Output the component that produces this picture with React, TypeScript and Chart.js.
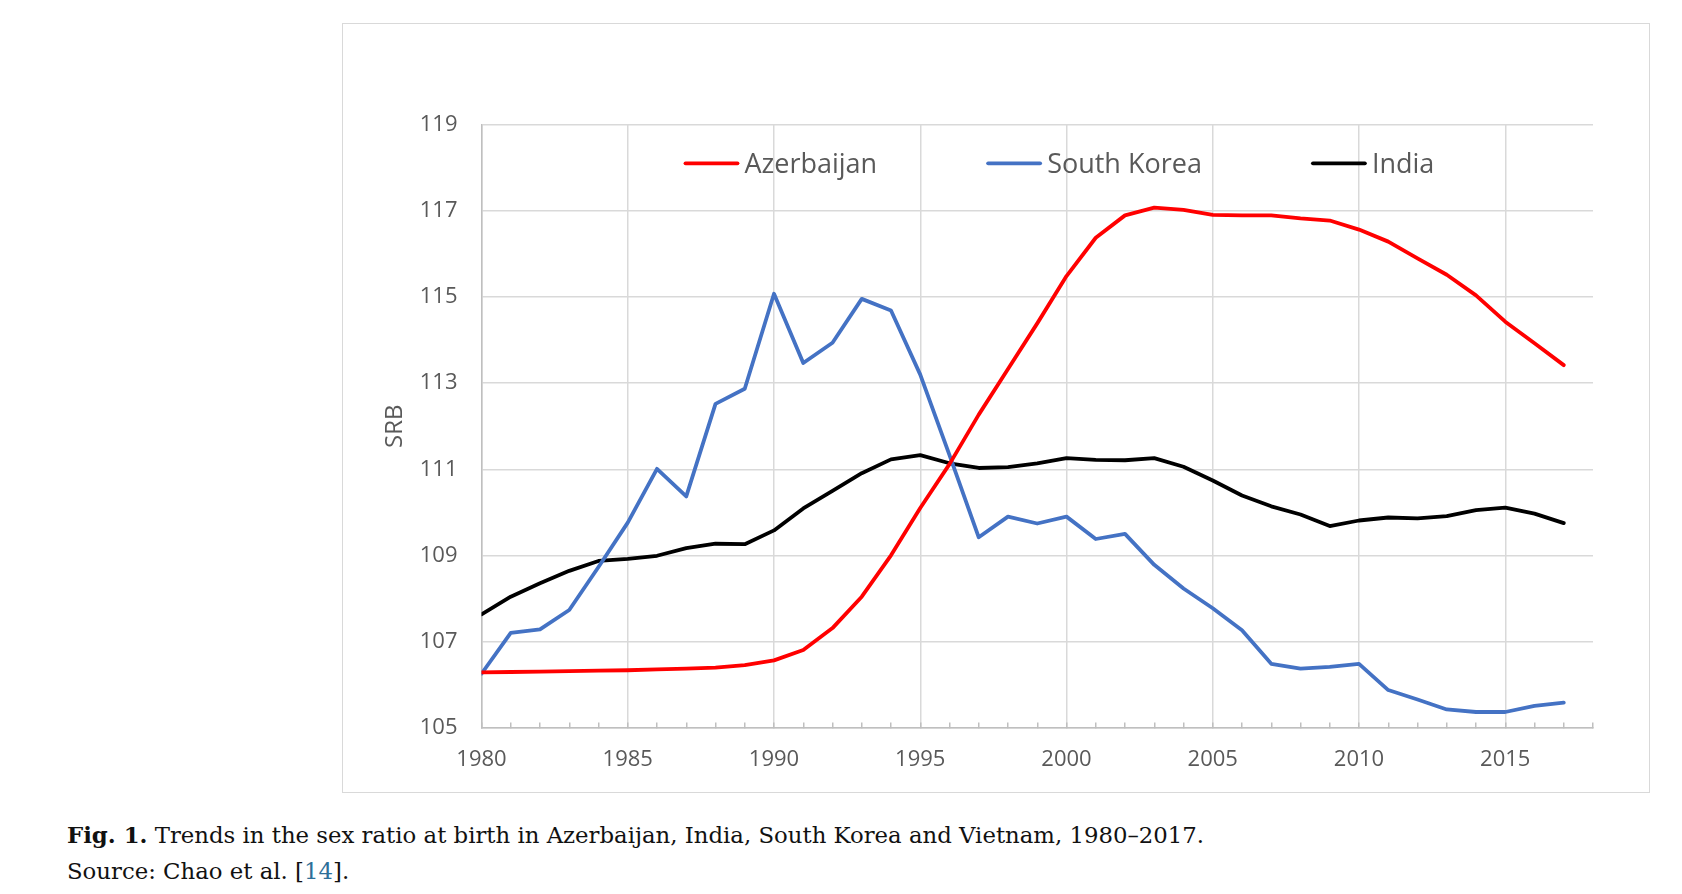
import React, { useEffect, useRef } from 'react';
import { Chart, registerables } from 'chart.js';

Chart.register(...registerables);

const years = [
  1980, 1981, 1982, 1983, 1984, 1985, 1986, 1987, 1988, 1989,
  1990, 1991, 1992, 1993, 1994, 1995, 1996, 1997, 1998, 1999,
  2000, 2001, 2002, 2003, 2004, 2005, 2006, 2007, 2008, 2009,
  2010, 2011, 2012, 2013, 2014, 2015, 2016, 2017,
];

const azerbaijan = [
  106.28, 106.29, 106.3, 106.31, 106.32, 106.33, 106.35, 106.37, 106.39, 106.45,
  106.56, 106.8, 107.31, 108.04, 109.0, 110.1, 111.12, 112.27, 113.33, 114.39,
  115.49, 116.38, 116.9, 117.08, 117.03, 116.91, 116.9, 116.9, 116.83, 116.78,
  116.57, 116.29, 115.9, 115.52, 115.04, 114.43, 113.93, 113.42,
];

const southKorea = [
  106.25, 107.2, 107.28, 107.73, 108.73, 109.76, 111.01, 110.37, 112.52, 112.87,
  115.08, 113.47, 113.94, 114.96, 114.69, 113.2, 111.33, 109.42, 109.9, 109.74,
  109.9, 109.38, 109.5, 108.78, 108.23, 107.77, 107.26, 106.48, 106.37, 106.41,
  106.48, 105.87, 105.65, 105.42, 105.36, 105.36, 105.5, 105.58,
];

const india = [
  107.63, 108.04, 108.35, 108.64, 108.87, 108.92, 108.99, 109.17, 109.27, 109.26,
  109.58, 110.09, 110.5, 110.91, 111.23, 111.33, 111.14, 111.03, 111.05, 111.14,
  111.26, 111.22, 111.21, 111.26, 111.06, 110.74, 110.39, 110.14, 109.95, 109.68,
  109.81, 109.88, 109.86, 109.91, 110.05, 110.11, 109.97, 109.75,
];

// labelled years on the x axis (the other years only get a small tick mark)
const xTickLabels = [1980, 1985, 1990, 1995, 2000, 2005, 2010, 2015];

const FONT = '"Open Sans", "Noto Sans", sans-serif';
const TEXT = '#595959';
const GRID = '#d9d9d9';
const AXIS = '#bfbfbf';

// Excel-style legend drawn inside the plot area
const insideLegend = {
  id: 'insideLegend',
  afterDraw(chart: any) {
    const { ctx, chartArea } = chart;
    const lineW = 56;
    const textGap = 5;
    const itemGap = 109;
    ctx.save();
    ctx.font = `27px ${FONT}`;
    const items = chart.data.datasets.map((ds: any) => ({
      label: ds.label,
      color: ds.borderColor,
      w: ctx.measureText(ds.label).width,
    }));
    const total =
      items.reduce((s: number, it: any) => s + lineW + textGap + it.w, 0) +
      itemGap * (items.length - 1);
    let x = chartArea.left + chartArea.width * 0.5195 - total / 2;
    const y = chartArea.top + 38.3;
    items.forEach((it: any) => {
      ctx.strokeStyle = it.color;
      ctx.lineWidth = 3.8;
      ctx.lineCap = 'round';
      ctx.beginPath();
      ctx.moveTo(x + 2, y);
      ctx.lineTo(x + lineW - 2, y);
      ctx.stroke();
      ctx.fillStyle = TEXT;
      ctx.textBaseline = 'alphabetic';
      ctx.fillText(it.label, x + lineW + textGap, y + 9.9);
      x += lineW + textGap + it.w + itemGap;
    });
    ctx.restore();
  },
};

const toPoints = (vals: number[]) => years.map((yr, i) => ({ x: yr, y: vals[i] }));

const App: React.FC = () => {
  const chartRef = useRef<HTMLCanvasElement>(null);
  const chartInstance = useRef<Chart>();

  useEffect(() => {
    if (!chartRef.current) return;
    const ctx = chartRef.current.getContext('2d');
    if (!ctx) return;

    const lineStyle = {
      borderWidth: 3.8,
      pointRadius: 0,
      pointHoverRadius: 0,
      tension: 0,
      borderCapStyle: 'round' as const,
      borderJoinStyle: 'round' as const,
      fill: false,
    };

    chartInstance.current = new Chart(ctx, {
      type: 'line',
      data: {
        datasets: [
          { label: 'Azerbaijan', data: toPoints(azerbaijan), borderColor: '#ff0000', backgroundColor: '#ff0000', ...lineStyle },
          { label: 'South Korea', data: toPoints(southKorea), borderColor: '#4472c4', backgroundColor: '#4472c4', ...lineStyle },
          { label: 'India', data: toPoints(india), borderColor: '#000000', backgroundColor: '#000000', ...lineStyle },
        ],
      },
      options: {
        animation: false,
        responsive: true,
        maintainAspectRatio: false,
        layout: { padding: { top: 102, right: 57, bottom: 20.5, left: 0 } },
        plugins: {
          legend: { display: false },
          tooltip: { enabled: false },
        },
        scales: {
          x: {
            type: 'linear',
            min: 1980,
            max: 2018,
            ticks: {
              stepSize: 1,
              autoSkip: false,
              maxRotation: 0,
              padding: 24,
              color: TEXT,
              font: { family: FONT, size: 22 },
              callback: (v: any) => (xTickLabels.includes(Number(v)) ? String(v) : ''),
            },
            grid: {
              color: (c: any) => (xTickLabels.includes(c.tick?.value) ? GRID : 'rgba(0,0,0,0)'),
              lineWidth: 1.5,
              drawTicks: true,
              tickLength: -5,
              tickColor: AXIS,
              tickWidth: 1.5,
            },
            border: { color: AXIS, width: 1.5 },
            afterFit: (s: any) => {
              s.height = 45;
            },
          },
          y: {
            min: 105,
            max: 119,
            ticks: {
              stepSize: 2,
              padding: 24,
              color: TEXT,
              font: { family: FONT, size: 22 },
            },
            grid: { color: GRID, lineWidth: 1.5, drawTicks: false },
            border: { color: AXIS, width: 1.5 },
            title: {
              display: true,
              text: 'SRB',
              color: TEXT,
              font: { family: FONT, size: 24 },
              padding: { top: 38.6, bottom: 0 },
            },
            afterFit: (s: any) => {
              s.width = 139.5;
            },
          },
        },
      },
      plugins: [insideLegend],
    });

    return () => {
      if (chartInstance.current) {
        chartInstance.current.destroy();
      }
    };
  }, []);

  const captionFont = '"DejaVu Serif", "Liberation Serif", serif';

  return (
    <div style={{ position: 'absolute', left: 0, top: 0, width: 1682, height: 894, background: '#fff', overflow: 'hidden' }}>
      <div
        style={{
          position: 'absolute',
          left: 342,
          top: 23,
          width: 1308,
          height: 770,
          border: `1.5px solid ${GRID}`,
          boxSizing: 'border-box',
        }}
      />
      <div style={{ position: 'absolute', left: 342, top: 23, width: 1308, height: 770 }}>
        <canvas ref={chartRef} />
      </div>
      <div
        style={{
          position: 'absolute',
          left: 67,
          top: 822,
          fontFamily: captionFont,
          fontSize: 22.8,
          color: '#111',
          whiteSpace: 'nowrap',
        }}
      >
        <b>Fig. 1.</b> Trends in the sex ratio at birth in Azerbaijan, India, South Korea and Vietnam, 1980–2017.
      </div>
      <div
        style={{
          position: 'absolute',
          left: 67,
          top: 858,
          fontFamily: captionFont,
          fontSize: 22.8,
          color: '#111',
          whiteSpace: 'nowrap',
        }}
      >
        Source: Chao et al. [<span style={{ color: '#2e6f99' }}>14</span>].
      </div>
    </div>
  );
};

export default App;
